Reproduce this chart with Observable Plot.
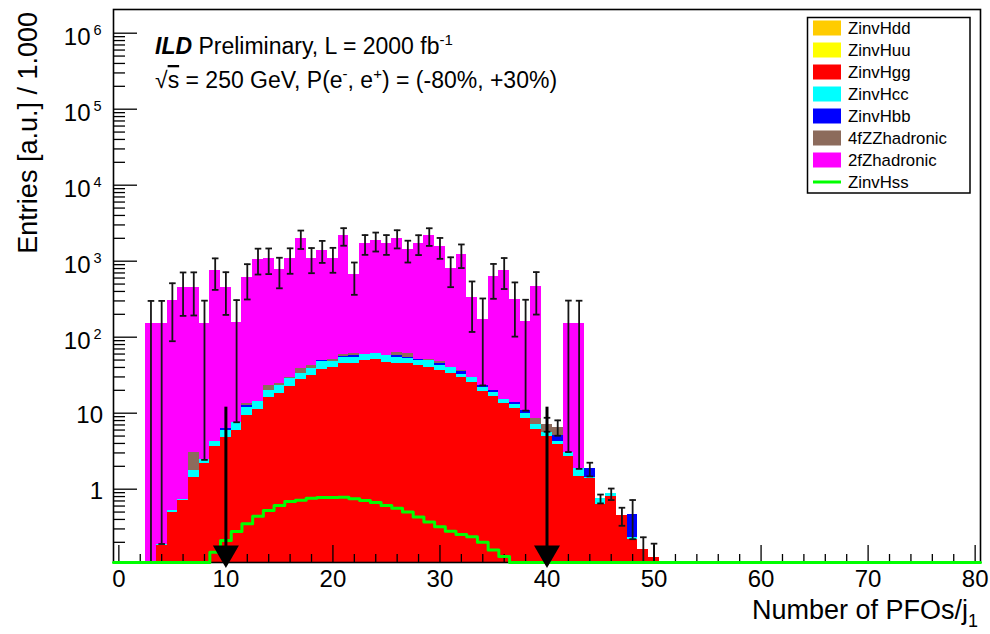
<!DOCTYPE html>
<html><head><meta charset="utf-8">
<script src="https://cdn.jsdelivr.net/npm/d3@7"></script>
<script src="https://cdn.jsdelivr.net/npm/@observablehq/plot@0.6"></script>
<style>
html,body{margin:0;padding:0;background:#fff;}
#chart{width:990px;height:634px;}
</style></head><body><div id="chart"></div>
<script>
// ---- data (bin index = number of PFOs, bins of width 1 centred on integers) ----
const binCentres = d3.range(0, 81);
const zinvHdd = [];   // not visible at this scale
const zinvHuu = [];   // not visible at this scale
const zinvHgg = [0,0,0,0,0.18,0.50,0.70,1.41,2.15,3.65,4.8,5.9,9.3,11.1,16.2,18.3,22.4,28,31,38,39.5,45.5,44.6,49,50.5,47,45.5,44.6,42.4,40.3,36.5,33.6,29.2,25.1,19.5,16.8,13.3,11.6,8.4,6.1,4.9,3.9,2.7,1.47,1.37,0.63,0.81,0.45,0.22,0.163,0.127];
const zinvHcc = [0,0,0,0,0.01,0.03,0.04,0.35,0.28,0.6,1.1,1.7,2.7,3.3,3.7,4.8,5.9,5.6,8,10,9,8.6,10,10,10,10.5,9,7.5,7.3,9.4,6.4,6.7,3.3,4.1,2.5,2.1,1.9,1.4,1.4,1.1,0.7,0.4,0.38,0.38,0.07,0.12,0.06,0,0.01,0,0];
const zinvHbb = [0,0,0,0,0,0,0,0,0,0,0.43,0,0.6,0,0,0,0,0,0,1.0,0,1.6,2.8,0,0,0,2.8,2.5,1.3,0,2.6,0,2.4,0,1.2,1.0,0,0.7,1.0,0,0,0.8,0,0,0.41,0,0,0,0.24,0,0];
const zz4fHadronic = [0,0,0,0,0,0,0,1.25,0,0,0,0,0.9,0,3.2,1.7,1.5,5,3.3,0,2.5,2.9,3.6,0,0,0,6,5.8,0,1.2,2,0,1.5,0,0,0,0,0,0,1.2,1.6,1.45];
const z2fHadronic = [0,0,0,150,150,300,450,450,150,750,450,150,600,1050,1050,750,1050,1950,1050,1350,1050,2100,600,1650,1800,1650,1950,1350,1650,2100,1500,750,1200,300,150,600,750,300,150,450,0,0,150,150];
const totalError = [0,0,0,150,150,212,260,260,150,335,260,150,300,397,397,335,397,541,397,450,397,561,300,497,520,497,541,450,497,561,474,335,424,212,150,300,335,212,150,260,1.5,1.5,150,150,0.38,0.1,0.15,0.12,0.25,0.07,0.065];
const zinvHss = [0,0,0,0,0,0,0,0,0,0.148,0.211,0.278,0.35,0.44,0.525,0.61,0.687,0.715,0.76,0.775,0.78,0.785,0.747,0.71,0.67,0.61,0.56,0.5,0.43,0.37,0.32,0.28,0.254,0.236,0.2,0.159,0.13];
const cutValues = [10, 40];
const cutArrowTop = 12;
const legendNames = ["ZinvHdd","ZinvHuu","ZinvHgg","ZinvHcc","ZinvHbb","4fZZhadronic","2fZhadronic","ZinvHss"];
const legendColors = ["#ffcc00","#ffff00","#ff0000","#00ffff","#0000ff","#8c6b5c","#ff00ff","#00ff00"];
const xMajorTicks = [0,10,20,30,40,50,60,70,80];
const yDecades = [1,10,100,1000,10000,100000,1000000];
const yDecadeExp = ["","","2","3","4","5","6"];

// ---- layout ----
const YMIN = 0.1085, YMAX = 2.05e6;
const font = "'Liberation Sans', Arial, Helvetica, sans-serif";

const stackSeries = [
  {name: "ZinvHdd", values: zinvHdd, color: legendColors[0]},
  {name: "ZinvHuu", values: zinvHuu, color: legendColors[1]},
  {name: "ZinvHgg", values: zinvHgg, color: legendColors[2]},
  {name: "ZinvHcc", values: zinvHcc, color: legendColors[3]},
  {name: "ZinvHbb", values: zinvHbb, color: legendColors[4]},
  {name: "4fZZhadronic", values: zz4fHadronic, color: legendColors[5]},
  {name: "2fZhadronic", values: z2fHadronic, color: legendColors[6]}
];
const segs = stackSeries.map(() => []);
const totals = [];
for (const i of binCentres) {
  let cum = 0;
  stackSeries.forEach((s, k) => {
    const v = s.values[i] || 0;
    if (v > 0) {
      const lo = cum; cum += v;
      if (cum > YMIN) segs[k].push({x1: i - 0.5, x2: i + 0.5, y1: Math.max(lo, YMIN), y2: cum});
    }
  });
  totals.push(cum);
}
const errs = [];
for (const i of binCentres) {
  const e = totalError[i] || 0;
  if (e > 0) errs.push({x: i, lo: totals[i] - e, hi: totals[i] + e});
}
const lowCaps = errs.filter(d => d.lo > YMIN);
const hssLine = binCentres.map(i => ({x: i - 0.5, y: Math.max(zinvHss[i] || 0, YMIN)}));
hssLine.push({x: 80.5, y: hssLine[hssLine.length - 1].y});

const minorX = d3.range(0, 81, 2).filter(v => v % 10 !== 0);
const minorY = [];
for (let e = -1; e <= 5; e++) for (let m = 2; m <= 9; m++) { const v = m * Math.pow(10, e); if (v > YMIN && v < YMAX) minorY.push(v); }

const downTriangle = {draw(ctx, size) { const y = Math.sqrt(size / (Math.sqrt(3) * 3)); ctx.moveTo(0, 2 * y); ctx.lineTo(-Math.sqrt(3) * y, -y); ctx.lineTo(Math.sqrt(3) * y, -y); ctx.closePath(); }};
const capSymbol = {draw(ctx, size) { const w = Math.sqrt(size / Math.PI); ctx.moveTo(-w, 0); ctx.lineTo(w, 0); }};

const marks = [];
stackSeries.forEach((s, k) => {
  marks.push(Plot.rect(segs[k], {x1: "x1", x2: "x2", y1: "y1", y2: "y2", fill: s.color, shapeRendering: "crispEdges"}));
});
marks.push(
  Plot.ruleX(errs, {x: "x", y1: d => Math.max(d.lo, YMIN), y2: "hi", stroke: "#151515", strokeWidth: 1.8}),
  Plot.dot(errs, {x: "x", y: "hi", symbol: capSymbol, r: 3.3, fill: "none", stroke: "#151515", strokeWidth: 1.8}),
  Plot.dot(lowCaps, {x: "x", y: "lo", symbol: capSymbol, r: 3.3, fill: "none", stroke: "#151515", strokeWidth: 1.8}),
  Plot.frame({stroke: "#000", strokeWidth: 1.6}),
  Plot.axisY({ticks: yDecades, tickSize: 24, dx: 24, tickFormat: () => "", label: null, strokeWidth: 1.3}),
  Plot.axisY({ticks: minorY, tickSize: 12, dx: 12, tickFormat: () => "", label: null, strokeWidth: 1.3}),
  Plot.axisX({ticks: minorX, tickSize: 8, dy: -8, tickFormat: () => "", label: null, strokeWidth: 1.3}),
  Plot.axisX({ticks: xMajorTicks, tickSize: 17, dy: -17, tickPadding: 7, fontSize: 24, label: null, strokeWidth: 1.3, tickFormat: d => String(d)}),
  Plot.text(yDecades.filter((d, k) => yDecadeExp[k] === ""), {y: d => d, frameAnchor: "left", dx: -10.5, dy: 2, textAnchor: "end", lineAnchor: "middle", fontSize: 24, text: d => String(d)}),
  Plot.text(yDecades.filter((d, k) => yDecadeExp[k] !== ""), {y: d => d, frameAnchor: "left", dx: -23, dy: 4.3, textAnchor: "end", lineAnchor: "middle", fontSize: 24, text: () => "10"}),
  Plot.text(yDecades.filter((d, k) => yDecadeExp[k] !== ""), {y: d => d, frameAnchor: "left", dx: -12, dy: -3, textAnchor: "end", lineAnchor: "middle", fontSize: 14.5, text: d => yDecadeExp[yDecades.indexOf(d)]}),
  Plot.line(hssLine, {x: "x", y: "y", curve: "step-after", stroke: "#00ff00", strokeWidth: 3}),
  Plot.ruleX(cutValues, {x: d => d, y1: cutArrowTop, y2: YMIN, stroke: "#000", strokeWidth: 3}),
  Plot.dot(cutValues, {x: d => d, y: YMIN, dy: -9.5, symbol: downTriangle, r: 9.65, fill: "#000", stroke: "none"})
);

const plot = Plot.plot({
  width: 990, height: 634,
  marginTop: 9, marginLeft: 113, marginRight: 10, marginBottom: 72,
  x: {domain: [-0.5, 80.5], axis: null},
  y: {type: "log", domain: [YMIN, YMAX], axis: null},
  style: {fontFamily: font, color: "#000", background: "#fff", overflow: "visible"},
  marks
});
document.getElementById("chart").appendChild(plot);

// ---- annotations ----
const svg = d3.select(plot);
const h1 = svg.append("text").attr("x", 155).attr("y", 54).attr("text-anchor", "start").attr("font-size", 23).attr("font-family", font).attr("fill", "#000");
h1.append("tspan").attr("font-weight", "bold").attr("font-style", "italic").text("ILD");
h1.append("tspan").text(" Preliminary, L = 2000 fb");
h1.append("tspan").attr("font-size", 15).attr("dy", -9).text("-1");
const h2 = svg.append("text").attr("x", 155).attr("y", 88).attr("text-anchor", "start").attr("font-size", 23).attr("font-family", font).attr("fill", "#000");
h2.append("tspan").text("\u221A");
h2.append("tspan").style("text-decoration", "overline").text("s");
h2.append("tspan").text(" = 250 GeV, P(e");
h2.append("tspan").attr("font-size", 15).attr("dy", -9).text("-");
h2.append("tspan").attr("dy", 9).text(", e");
h2.append("tspan").attr("font-size", 15).attr("dy", -9).text("+");
h2.append("tspan").attr("dy", 9).text(") = (-80%, +30%)");

svg.append("text").attr("transform", "translate(37,12) rotate(-90)").attr("text-anchor", "end")
  .attr("font-size", 27).attr("font-family", font).attr("fill", "#000").text("Entries [a.u.] / 1.000");
const xt = svg.append("text").attr("x", 978).attr("y", 619).attr("text-anchor", "end")
  .attr("font-size", 27).attr("font-family", font).attr("fill", "#000");
xt.append("tspan").text("Number of PFOs/j");
xt.append("tspan").attr("font-size", 18).attr("dy", 8).text("1");

// legend
const lg = svg.append("g").attr("text-anchor", "start");
lg.append("rect").attr("x", 807.5).attr("y", 17.5).attr("width", 162.5).attr("height", 175.5)
  .attr("fill", "#fff").attr("stroke", "#000").attr("stroke-width", 1.5);
legendNames.forEach((name, k) => {
  const cy = 28 + 22 * k;
  if (name === "ZinvHss") {
    lg.append("line").attr("x1", 813).attr("x2", 841).attr("y1", cy).attr("y2", cy).attr("stroke", legendColors[k]).attr("stroke-width", 3);
  } else {
    lg.append("rect").attr("x", 813).attr("y", cy - 7.5).attr("width", 28).attr("height", 15).attr("fill", legendColors[k]);
  }
  lg.append("text").attr("x", 848).attr("y", cy + 6).attr("text-anchor", "start").attr("font-size", 16.8).attr("font-family", font).attr("fill", "#000").text(name);
});
</script></body></html>
